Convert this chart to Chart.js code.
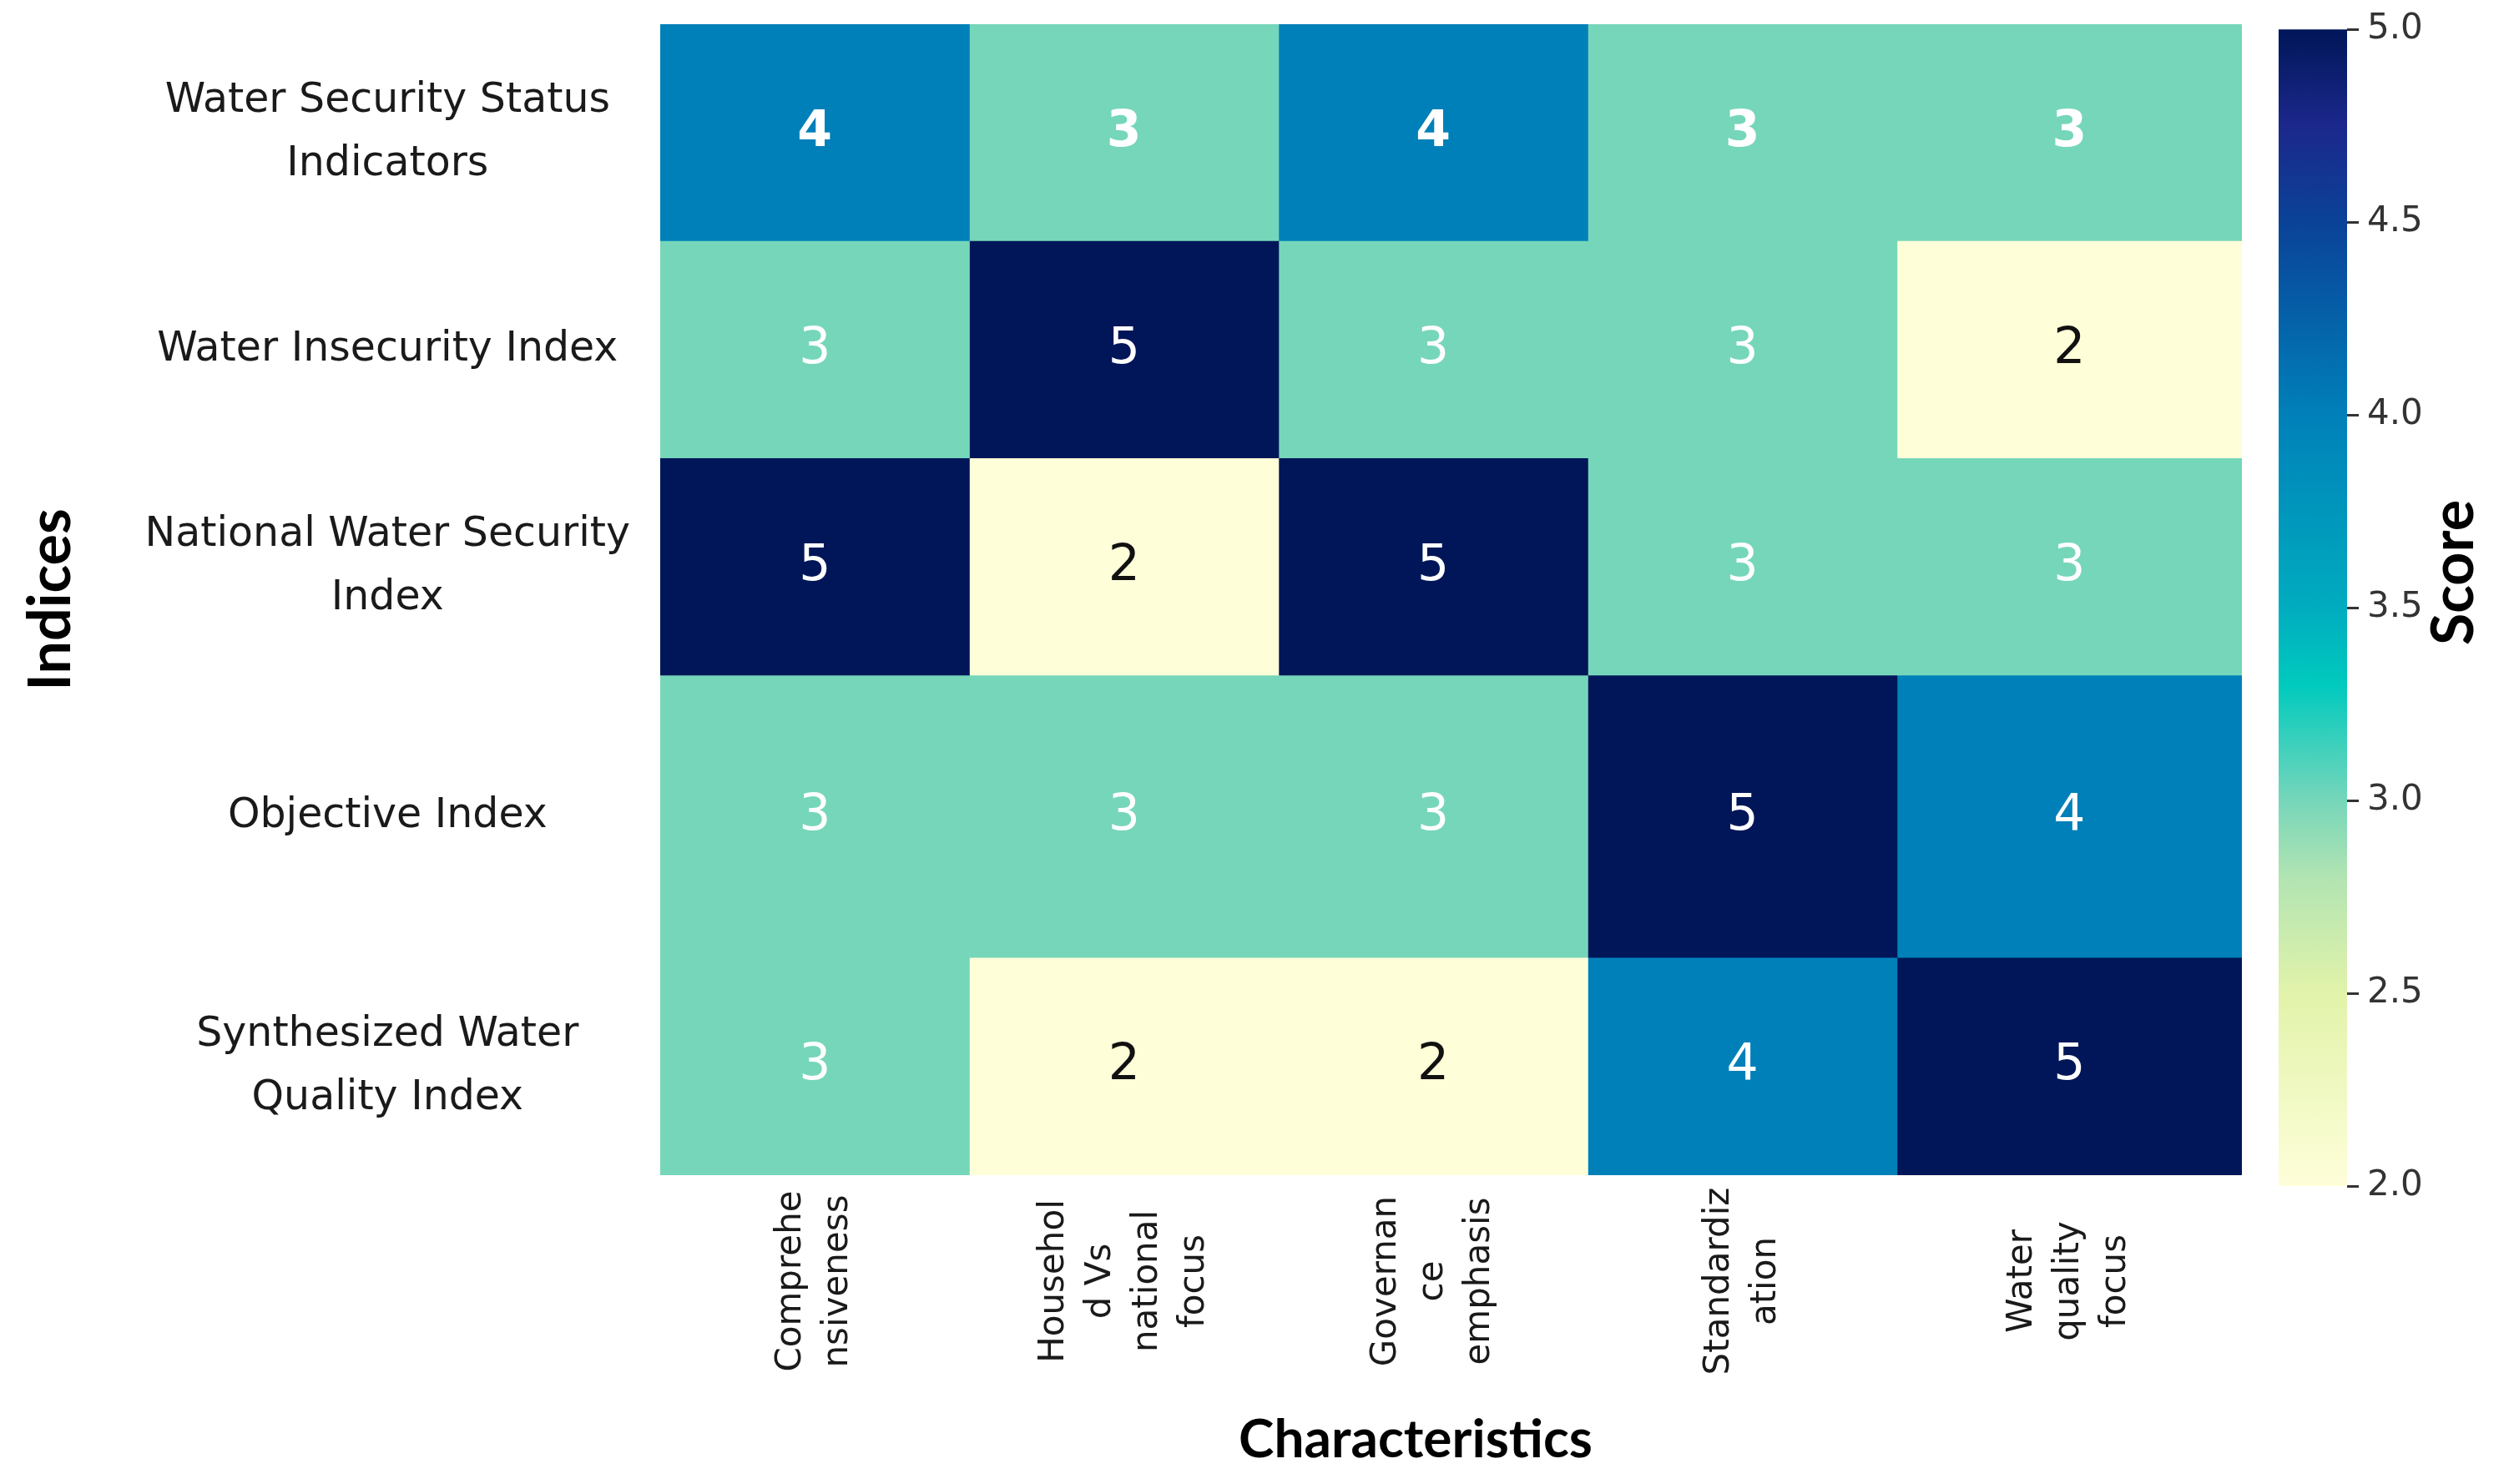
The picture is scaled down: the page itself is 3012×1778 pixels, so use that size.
<!DOCTYPE html>
<html>
<head>
<meta charset="utf-8">
<script src="https://cdn.jsdelivr.net/npm/chart.js@4.4.1/dist/chart.umd.min.js"></script>
<style>
    html, body { margin: 0; padding: 0; background: #fff; }
    #wrap { position: relative; width: 3012px; height: 1778px; }
    #heatBox { position: absolute; left: 0; top: 0; width: 3012px; height: 1778px; }
    #barBox { position: absolute; left: 2700px; top: 0; width: 312px; height: 1778px; }
</style>
</head>
<body>
<div id="wrap">
    <div id="heatBox"><canvas id="heatChart"></canvas></div>
    <div id="barBox"><canvas id="scaleChart"></canvas></div>
</div>
<script>
// Indices (rows), top to bottom
const indexLabels = [
    ['Water Security Status', 'Indicators'],
    'Water Insecurity Index',
    ['National Water Security', 'Index'],
    'Objective Index',
    ['Synthesized Water', 'Quality Index']
];

// Characteristics (columns), wrapped the same way as the figure
const characteristicLabels = [
    ['Comprehe', 'nsiveness'],
    ['Househol', 'd Vs', 'national', 'focus'],
    ['Governan', 'ce', 'emphasis'],
    ['Standardiz', 'ation'],
    ['Water', 'quality', 'focus']
];

// Scores, one array per index
const wssiScores = [4, 3, 4, 3, 3];
const wiiScores  = [3, 5, 3, 3, 2];
const nwsiScores = [5, 2, 5, 3, 3];
const oiScores   = [3, 3, 3, 5, 4];
const swqiScores = [3, 2, 2, 4, 5];
const scoreRows = [wssiScores, wiiScores, nwsiScores, oiScores, swqiScores];

// Colour bar range and ticks
const scoreMin = 2;
const scoreMax = 5;
const scoreTicks = [2.0, 2.5, 3.0, 3.5, 4.0, 4.5, 5.0];

// the figure's grid is not even: 4th row is taller, last column wider
const rowWeights = [1, 1, 1, 1.3, 1];
const colWeights = [1, 1, 1, 1, 1.115];

// colour map (value -> rgb)
const colorStops = [
    [2.0,  [254, 254, 217]],
    [2.5,  [226, 243, 170]],
    [2.8,  [178, 228, 178]],
    [3.0,  [118, 214, 186]],
    [3.3,  [0, 202, 190]],
    [3.5,  [0, 172, 191]],
    [4.0,  [0, 128, 185]],
    [4.5,  [10, 66, 152]],
    [4.75, [28, 40, 140]],
    [5.0,  [0, 22, 88]]
];

function edges(w) {
    const e = [0];
    w.forEach(v => e.push(e[e.length - 1] + v));
    return e;
}
const rowEdges = edges(rowWeights);
const colEdges = edges(colWeights);
const rowMid = i => (rowEdges[i] + rowEdges[i + 1]) / 2;
const colMid = j => (colEdges[j] + colEdges[j + 1]) / 2;

function rgb(c) {
    return 'rgb(' + c.map(Math.round).join(',') + ')';
}

function scoreColor(v) {
    for (let k = 1; k < colorStops.length; k++) {
        const [v1, c1] = colorStops[k];
        const [v0, c0] = colorStops[k - 1];
        if (v <= v1) {
            const t = (v - v0) / (v1 - v0);
            return rgb(c0.map((c, n) => c + (c1[n] - c) * t));
        }
    }
    return rgb(colorStops[colorStops.length - 1][1]);
}

// column bars get the width of their column on the x scale
const cellWidths = {
    id: 'cellWidths',
    afterLayout(chart) {
        const x = chart.scales.x;
        chart.data.datasets.forEach((ds, j) => {
            ds.barThickness = x.getPixelForValue(colEdges[j + 1]) - x.getPixelForValue(colEdges[j]);
        });
    }
};

// cell numbers, rotated column labels and the x title
const heatText = {
    id: 'heatText',
    afterDatasetsDraw(chart) {
        const { ctx, scales: { x, y } } = chart;
        ctx.save();
        ctx.textAlign = 'center';
        ctx.textBaseline = 'middle';
        scoreRows.forEach((row, i) => {
            row.forEach((v, j) => {
                ctx.font = (i === 0 ? 'bold ' : '') + '60px "DejaVu Sans"';
                ctx.fillStyle = v <= 2 ? '#111' : '#fff';
                ctx.fillText(String(v), x.getPixelForValue(colMid(j)), y.getPixelForValue(rowMid(i)));
            });
        });

        ctx.font = '42px "DejaVu Sans"';
        ctx.fillStyle = '#1a1a1a';
        const mid = y.bottom + 127;
        characteristicLabels.forEach((lines, j) => {
            const cx = x.getPixelForValue(colMid(j));
            lines.forEach((t, k) => {
                ctx.save();
                ctx.translate(cx + (k - (lines.length - 1) / 2) * 56, mid);
                ctx.rotate(-Math.PI / 2);
                ctx.fillText(t, 0, 0);
                ctx.restore();
            });
        });

        ctx.font = 'bold 64px Lato';
        ctx.fillStyle = '#000';
        ctx.fillText('Characteristics', 1696, 1725);
        ctx.restore();
    }
};

new Chart(document.getElementById('heatChart'), {
    type: 'bar',
    data: {
        datasets: characteristicLabels.map((lab, j) => ({
            label: lab.join(' '),
            data: scoreRows.map((row, i) => ({ x: colMid(j), y: [rowEdges[i], rowEdges[i + 1]] })),
            backgroundColor: scoreRows.map(r => scoreColor(r[j])),
            borderWidth: 0,
            grouped: false,
            barThickness: 1
        }))
    },
    options: {
        responsive: true,
        maintainAspectRatio: false,
        animation: false,
        layout: { padding: { left: 0, top: 29, right: 3012 - 2686, bottom: 1778 - 1408 } },
        plugins: {
            legend: { display: false },
            tooltip: { enabled: false }
        },
        scales: {
            x: { type: 'linear', display: false, offset: false, min: 0, max: colEdges[colEdges.length - 1] },
            y: {
                type: 'linear',
                reverse: true,
                min: 0,
                max: rowEdges[rowEdges.length - 1],
                afterBuildTicks: s => { s.ticks = indexLabels.map((l, i) => ({ value: rowMid(i) })); },
                afterFit: s => {
                    s.width = 791;
                    // labels sit inside the rows, no extra room needed
                    s.paddingTop = 0;
                    s.paddingBottom = 0;
                },
                grid: { display: false, drawTicks: false },
                border: { display: false },
                ticks: {
                    autoSkip: false,
                    callback: (v, i) => indexLabels[i],
                    crossAlign: 'center',
                    padding: 36,
                    color: '#1a1a1a',
                    font: { family: 'DejaVu Sans', size: 49, lineHeight: 1.55 }
                },
                title: {
                    display: true,
                    text: 'Indices',
                    color: '#000',
                    font: { family: 'Lato', size: 70, weight: 'bold', lineHeight: 1.2 },
                    padding: { top: 19, bottom: 0 }
                }
            }
        }
    },
    plugins: [cellWidths, heatText]
});

// "Score" reads bottom to top, so draw it here
const scoreTitle = {
    id: 'scoreTitle',
    afterDraw(chart) {
        const ctx = chart.ctx;
        ctx.save();
        ctx.translate(240, 686);
        ctx.rotate(-Math.PI / 2);
        ctx.textAlign = 'center';
        ctx.textBaseline = 'middle';
        ctx.font = 'bold 70px Lato';
        ctx.fillStyle = '#000';
        ctx.fillText('Score', 0, 0);
        ctx.restore();
    }
};

new Chart(document.getElementById('scaleChart'), {
    type: 'bar',
    data: {
        labels: ['Score'],
        datasets: [{
            data: [[scoreMin, scoreMax]],
            backgroundColor: function(c) {
                const chart = c.chart;
                if (!chart.chartArea) return '#ccc';
                const ys = chart.scales.y;
                const g = chart.ctx.createLinearGradient(0, ys.getPixelForValue(scoreMin), 0, ys.getPixelForValue(scoreMax));
                colorStops.forEach(([v, col]) => {
                    g.addColorStop((v - scoreMin) / (scoreMax - scoreMin), rgb(col));
                });
                return g;
            },
            borderWidth: 0,
            barPercentage: 1,
            categoryPercentage: 1
        }]
    },
    options: {
        responsive: true,
        maintainAspectRatio: false,
        animation: false,
        layout: { padding: { left: 30, top: 35, right: 0, bottom: 1778 - 1421 } },
        plugins: {
            legend: { display: false },
            tooltip: { enabled: false }
        },
        scales: {
            x: { display: false },
            y: {
                position: 'right',
                min: scoreMin,
                max: scoreMax,
                afterBuildTicks: s => { s.ticks = scoreTicks.map(v => ({ value: v })); },
                afterFit: s => { s.width = 200; },
                ticks: {
                    callback: v => Number(v).toFixed(1),
                    color: '#333',
                    padding: 10,
                    font: { family: 'DejaVu Sans', size: 42 }
                },
                grid: { drawOnChartArea: false, tickLength: 14, color: '#333', lineWidth: 3 },
                border: { display: false }
            }
        }
    },
    plugins: [scoreTitle]
});
</script>
</body>
</html>
